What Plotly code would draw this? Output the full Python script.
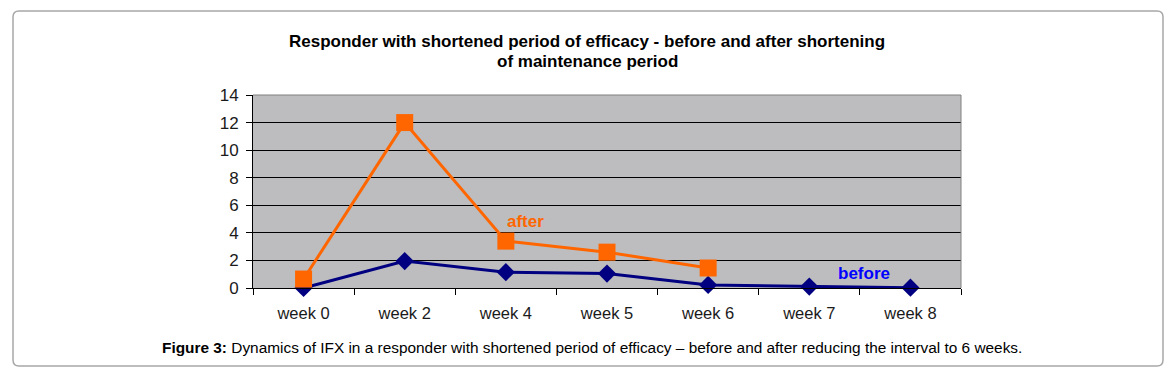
import plotly.graph_objects as go

weeks = ["week 0", "week 2", "week 4", "week 5", "week 6", "week 7", "week 8"]
after_vals = [0.65, 12.0, 3.4, 2.6, 1.45, None, None]
before_vals = [0.0, 1.95, 1.15, 1.05, 0.22, 0.1, 0.02]
y_ticks = [0, 2, 4, 6, 8, 10, 12, 14]

FONT = "Liberation Sans, Arial, sans-serif"

fig = go.Figure()
fig.add_trace(go.Scatter(
    x=weeks, y=before_vals, mode="lines+markers", name="before",
    line=dict(color="#000080", width=3),
    marker=dict(symbol="diamond", size=14, color="#000080"),
    cliponaxis=False,
))
fig.add_trace(go.Scatter(
    x=weeks, y=after_vals, mode="lines+markers", name="after",
    line=dict(color="#FF6600", width=3),
    marker=dict(symbol="square", size=17, color="#FF6600"),
    cliponaxis=False,
))

L, R, T, B = 253, 210, 95, 90
fig.update_layout(
    width=1171, height=378,
    margin=dict(l=L, r=R, t=T, b=B),
    paper_bgcolor="white",
    plot_bgcolor="#BDBDBF",
    showlegend=False,
    font=dict(family=FONT, color="#000000"),
    xaxis=dict(
        type="category", range=[-0.5, 6.5],
        tickson="boundaries", ticks="outside", ticklen=6, tickcolor="#000000",
        showline=True, linecolor="#000000", linewidth=1, mirror=False,
        showgrid=False, ticklabelstandoff=10,
        tickfont=dict(size=16.5, color="#1a1a1a"),
    ),
    yaxis=dict(
        range=[0, 14], tickvals=y_ticks, ticks="outside", ticklen=6,
        tickcolor="#000000", showline=True, linecolor="#000000", linewidth=1,
        showgrid=True, gridcolor="#000000", gridwidth=1,
        zeroline=False, ticklabelstandoff=4,
        tickfont=dict(size=17, color="#1a1a1a"),
    ),
    shapes=[
        dict(type="path", xref="paper", yref="paper",
             path="M 0 0 Z", line=dict(width=0)),
        dict(type="line", xref="paper", yref="paper", x0=0, x1=1, y0=1, y1=1,
             line=dict(color="#808080", width=1)),
        dict(type="line", xref="paper", yref="paper", x0=1, x1=1, y0=0, y1=1,
             line=dict(color="#808080", width=1)),
    ],
)

W, H = 1171 - L - R, 378 - T - B
def px(xp):
    return (xp - L) / W
def py(yp):
    return (378 - B - yp) / H

annotations = [
    dict(text="<b>Responder with shortened period of efficacy - before and after shortening</b>",
         x=px(587), y=py(42), xref="paper", yref="paper", xanchor="center",
         yanchor="middle", showarrow=False,
         font=dict(size=17, color="#000000", family=FONT)),
    dict(text="<b>of maintenance period</b>",
         x=px(587), y=py(61), xref="paper", yref="paper", xanchor="center",
         yanchor="middle", showarrow=False,
         font=dict(size=17, color="#000000", family=FONT)),
    dict(text="<b>after</b>", x=px(505), y=py(221), xref="paper", yref="paper",
         xanchor="left", yanchor="middle", showarrow=False,
         font=dict(size=17, color="#FF6600", family=FONT)),
    dict(text="<b>before</b>", x=px(836), y=py(273), xref="paper", yref="paper",
         xanchor="left", yanchor="middle", showarrow=False,
         font=dict(size=17, color="#0000FF", family=FONT)),
    dict(text="<b>Figure 3:</b> Dynamics of IFX in a responder with shortened period of efficacy \u2013 before and after reducing the interval to 6 weeks.",
         x=px(592), y=py(347), xref="paper", yref="paper", xanchor="center",
         yanchor="middle", showarrow=False,
         font=dict(size=15.4, color="#000000", family=FONT)),
]
fig.update_layout(annotations=annotations)

x0, x1, y0, y1, r = 13, 1163, 11, 366, 6
path = (f"M {px(x0 + r)} {py(y0)} L {px(x1 - r)} {py(y0)} "
        f"Q {px(x1)} {py(y0)} {px(x1)} {py(y0 + r)} L {px(x1)} {py(y1 - r)} "
        f"Q {px(x1)} {py(y1)} {px(x1 - r)} {py(y1)} L {px(x0 + r)} {py(y1)} "
        f"Q {px(x0)} {py(y1)} {px(x0)} {py(y1 - r)} L {px(x0)} {py(y0 + r)} "
        f"Q {px(x0)} {py(y0)} {px(x0 + r)} {py(y0)} Z")
fig.layout.shapes[0].update(path=path, line=dict(color="#A8A8A8", width=1.5),
                            layer="below")

fig.write_html("out.html", config={"displayModeBar": False},
               post_script="document.body.style.margin='0px';document.body.style.overflow='hidden';")
